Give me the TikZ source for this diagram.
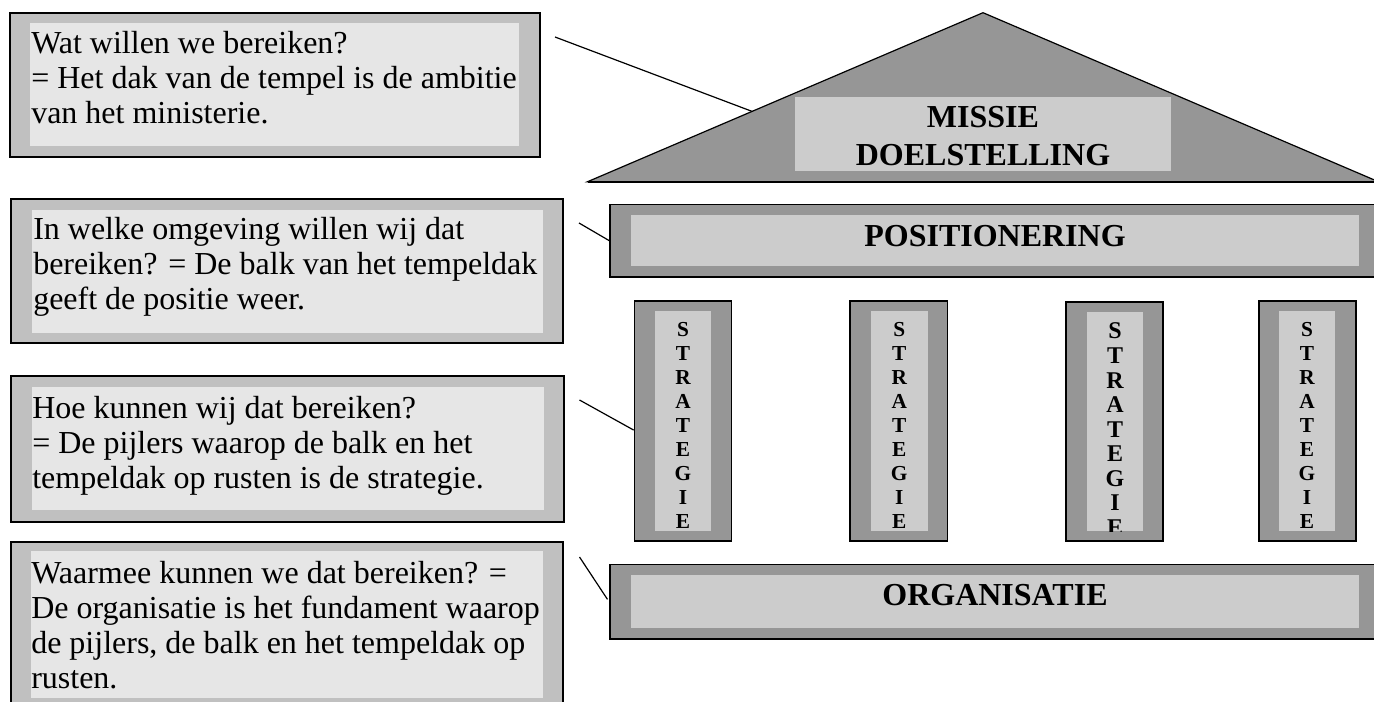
\documentclass[tikz,border=0pt]{standalone}
\usepackage{fontspec}
\setmainfont{Liberation Serif}
\usetikzlibrary{calc,fit}
\newdimen\px \px=0.75pt
\definecolor{boxgray}{HTML}{C0C0C0}
\definecolor{boxlight}{HTML}{E6E6E6}
\definecolor{bldgray}{HTML}{969696}
\definecolor{bldlight}{HTML}{CCCCCC}
\begin{document}
\begin{tikzpicture}[x=0.75pt,y=-0.75pt,
  txtouter/.style={inner sep=0pt,rectangle,draw=black,line width=1pt,fill=boxgray},
  txtinner/.style={inner sep=0pt,rectangle,fill=boxlight},
  bldouter/.style={inner sep=0pt,rectangle,draw=black,line width=1.3pt,fill=bldgray},
  bldinner/.style={inner sep=0pt,rectangle,fill=bldlight},
  conn/.style={draw=black,line width=0.9pt},
  bodytext/.style={anchor=base west,inner sep=0pt},
  lbl/.style={anchor=base,inner sep=0pt},
  pillartext/.style={anchor=base,inner sep=0pt},
]
\useasboundingbox (0,0) rectangle (1374,702);
\fill[white] (0,0) rectangle (1374,702);
\clip (0,0) rectangle (1374,702);

% ---------- text boxes ----------
\node[txtouter,fit={(10,13) (540,157)}] (b1) {};
\node[txtinner,fit={(30,23) (519,146)}] (b1i) {};
\node[bodytext] (t1) at (31,53.5) {\parbox[t]{520\px}{\fontsize{24}{26.25}\selectfont
Wat willen we bereiken?\\
= Het dak van de tempel is de ambitie\\
van het ministerie.}};

\node[txtouter,fit={(11,199) (563,343)}] (b2) {};
\node[txtinner,fit={(32,210) (543,333)}] (b2i) {};
\node[bodytext] (t2) at (33,240) {\parbox[t]{520\px}{\fontsize{24}{26.25}\selectfont
In welke omgeving willen wij dat\\
bereiken? = De balk van het tempeldak\\
geeft de positie weer.}};

\node[txtouter,fit={(11,376) (564,522)}] (b3) {};
\node[txtinner,fit={(32,387) (544,510)}] (b3i) {};
\node[bodytext] (t3) at (32,418) {\parbox[t]{520\px}{\fontsize{24}{26.25}\selectfont
Hoe kunnen wij dat bereiken?\\
= De pijlers waarop de balk en het\\
tempeldak op rusten is de strategie.}};

\node[txtouter,fit={(11,542) (563,712)}] (b4) {};
\node[txtinner,fit={(31,551) (543,698)}] (b4i) {};
\node[bodytext] (t4) at (31,583) {\parbox[t]{530\px}{\fontsize{24}{26.25}\selectfont
Waarmee kunnen we dat bereiken? =\\
De organisatie is het fundament waarop\\
de pijlers, de balk en het tempeldak op\\
rusten.}};

% ---------- roof ----------
\coordinate (apex) at (983,12.7);
\coordinate (roofL) at (587.6,181.7);
\coordinate (roofR) at (1378.4,181.7);
\draw[line width=0.9pt,fill=bldgray,line join=miter] (roofL) -- (apex) -- (roofR) -- cycle;
\draw[line width=1.6pt] (roofL) -- (roofR);
\node[bldinner,fit={(795,97) (1171,171)}] (mission) {};
\node[lbl] (missiontxt) at (983,128) {\parbox[t]{380\px}{\centering\fontsize{24}{28.5}\selectfont\bfseries MISSIE\\DOELSTELLING}};

% ---------- positionering ----------
\node[bldouter,fit={(610,204.5) (1382,276.7)}] (pos) {};
\node[bldinner,fit={(631,215) (1359,266)}] (posi) {};
\node[lbl,font=\fontsize{24}{28.5}\selectfont\bfseries] (postxt) at (995,246.7) {POSITIONERING};

% ---------- pillars ----------
\node[bldouter,fit={(634.5,301) (731.5,541)}] (p1) {};
\node[bldinner,fit={(655,311) (711,531)}] (p1i) {};
\node[bldouter,fit={(850,301) (947.5,541)}] (p2) {};
\node[bldinner,fit={(871,311) (927.5,531)}] (p2i) {};
\node[bldouter,fit={(1066,301.7) (1163.3,541)}] (p3) {};
\node[bldinner,fit={(1087,311.5) (1143,531)}] (p3i) {};
\node[bldouter,fit={(1259,301) (1356,541)}] (p4) {};
\node[bldinner,fit={(1279,311) (1335,531)}] (p4i) {};

\node[pillartext] (s1) at (683,336) {\parbox[t]{40\px}{\centering\fontsize{16}{18}\selectfont\bfseries S\\T\\R\\A\\T\\E\\G\\I\\E}};
\node[pillartext] (s2) at (899.2,336) {\parbox[t]{40\px}{\centering\fontsize{16}{18}\selectfont\bfseries S\\T\\R\\A\\T\\E\\G\\I\\E}};
\begin{scope}
\clip (p3i.north west) rectangle (p3i.south east);
\node[pillartext] (s3) at (1115,339) {\parbox[t]{40\px}{\centering\fontsize{18}{18.4}\selectfont\bfseries S\\T\\R\\A\\T\\E\\G\\I\\E}};
\end{scope}
\node[pillartext] (s4) at (1307,336) {\parbox[t]{40\px}{\centering\fontsize{16}{18}\selectfont\bfseries S\\T\\R\\A\\T\\E\\G\\I\\E}};

% ---------- organisatie ----------
\node[bldouter,fit={(610,564.5) (1382,639.3)}] (org) {};
\node[bldinner,fit={(631,575) (1359,628)}] (orgi) {};
\node[lbl,font=\fontsize{24}{28.5}\selectfont\bfseries] (orgtxt) at (995,605) {ORGANISATIE};

% ---------- connectors ----------
\coordinate (c1) at (555,37);
\coordinate (c2) at (579,223);
\coordinate (c3) at (579.5,400);
\coordinate (c4) at (579.5,557);
\coordinate (roofhit) at ($(roofL)!0.416!(apex)$);
\coordinate (p1hit) at ($(p1.north west)!0.5375!(p1.south west)$);
\draw[conn] (c1) -- (roofhit);
\draw[conn] (c2) -- (pos.west);
\draw[conn] (c3) -- (p1hit);
\draw[conn,shorten >=3\px] (c4) -- (org.west);
\end{tikzpicture}
\end{document}
